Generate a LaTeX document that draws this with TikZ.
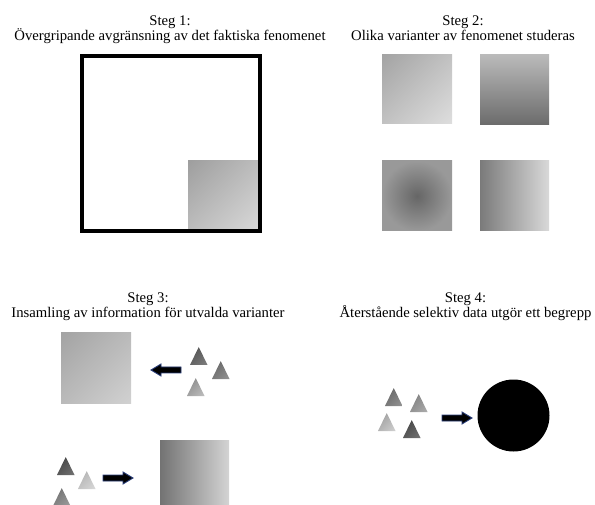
\documentclass[tikz,border=0pt]{standalone}
\usepackage{fontspec}
\setmainfont{Liberation Serif}
\usetikzlibrary{shadings}
\begin{document}
\begin{tikzpicture}[x=1pt,y=-1pt,
  title/.style={anchor=base,inner sep=0pt,font=\fontsize{14.7}{16}\selectfont},
  frame/.style={draw=black,line width=3.6pt},
  barrow/.style={fill=black,draw={rgb,255:red,40;green,60;blue,120},line width=0.9pt,line join=miter},
  pics/rarrow/.style={code={
    \draw[barrow] (-15,-3) -- (5,-3) -- (5,-6) -- (15,0) -- (5,6) -- (5,3) -- (-15,3) -- cycle;}},
  pics/larrow/.style={code={
    \draw[barrow] (15,-3) -- (-5,-3) -- (-5,-6) -- (-15,0) -- (-5,6) -- (-5,3) -- (15,3) -- cycle;}}
]
\useasboundingbox (0,0) rectangle (595,505);
\newcommand{\tri}[4]{% x y dark light
  \pgfmathtruncatemacro{\mymid}{(#3+#4)/2}%
  \shade[upper left=black!#3, lower right=black!#4, upper right=black!\mymid, lower left=black!\mymid]
    (#1,#2+18) -- (#1+8.75,#2) -- (#1+17.5,#2+18) -- cycle;}
\newcommand{\dsq}[6]{% x1 y1 x2 y2 dark light
  \pgfmathtruncatemacro{\mymid}{(#5+#6)/2}%
  \shade[upper left=black!#5, lower right=black!#6, upper right=black!\mymid, lower left=black!\mymid]
    (#1,#2) rectangle (#3,#4);}

% Step 1
\node[title] (t1a) at (170,25.7) {Steg 1:};
\node[title] (t1b) at (170,40.7) {Övergripande avgränsning av det faktiska fenomenet};
\dsq{188}{161}{259}{231}{38}{15}
\draw[frame] (82,56) rectangle (260,231);

% Step 2
\node[title] (t2a) at (463,25.7) {Steg 2:};
\node[title] (t2b) at (463,40.7) {Olika varianter av fenomenet studeras};
\dsq{382}{55}{452}{124}{36}{13}
\shade[top color=black!27, bottom color=black!58] (480,55) rectangle (549,125);
\shade[inner color=black!60, outer color=black!40] (382,161) rectangle (452,231);
\shade[left color=black!52, right color=black!15] (480,161) rectangle (549,231);

% Step 3
\node[title] (t3a) at (148,303) {Steg 3:};
\node[title] (t3b) at (148,318) {Insamling av information för utvalda varianter};
\dsq{61}{333}{131}{403}{36}{18}
\pic at (166,370) {larrow};
\tri{190}{347}{70}{50}
\tri{212}{361}{62}{42}
\tri{187}{378}{48}{25}

\tri{57}{457}{75}{55}
\tri{78}{471}{32}{15}
\tri{53}{488}{58}{38}
\pic at (118,478) {rarrow};
\shade[left color=black!55, right color=black!17] (160,440) rectangle (229,505);

% Step 4
\node[title] (t4a) at (465.5,302.7) {Steg 4:};
\node[title] (t4b) at (465.5,318) {Återstående selektiv data utgör ett begrepp};
\tri{385}{388}{62}{42}
\tri{410}{394}{52}{32}
\tri{378}{413}{40}{18}
\tri{403}{420}{75}{55}
\pic at (457,418) {rarrow};
\node[circle,fill=black,minimum size=72pt,inner sep=0pt] (c) at (513.5,415.5) {};
\end{tikzpicture}
\end{document}
